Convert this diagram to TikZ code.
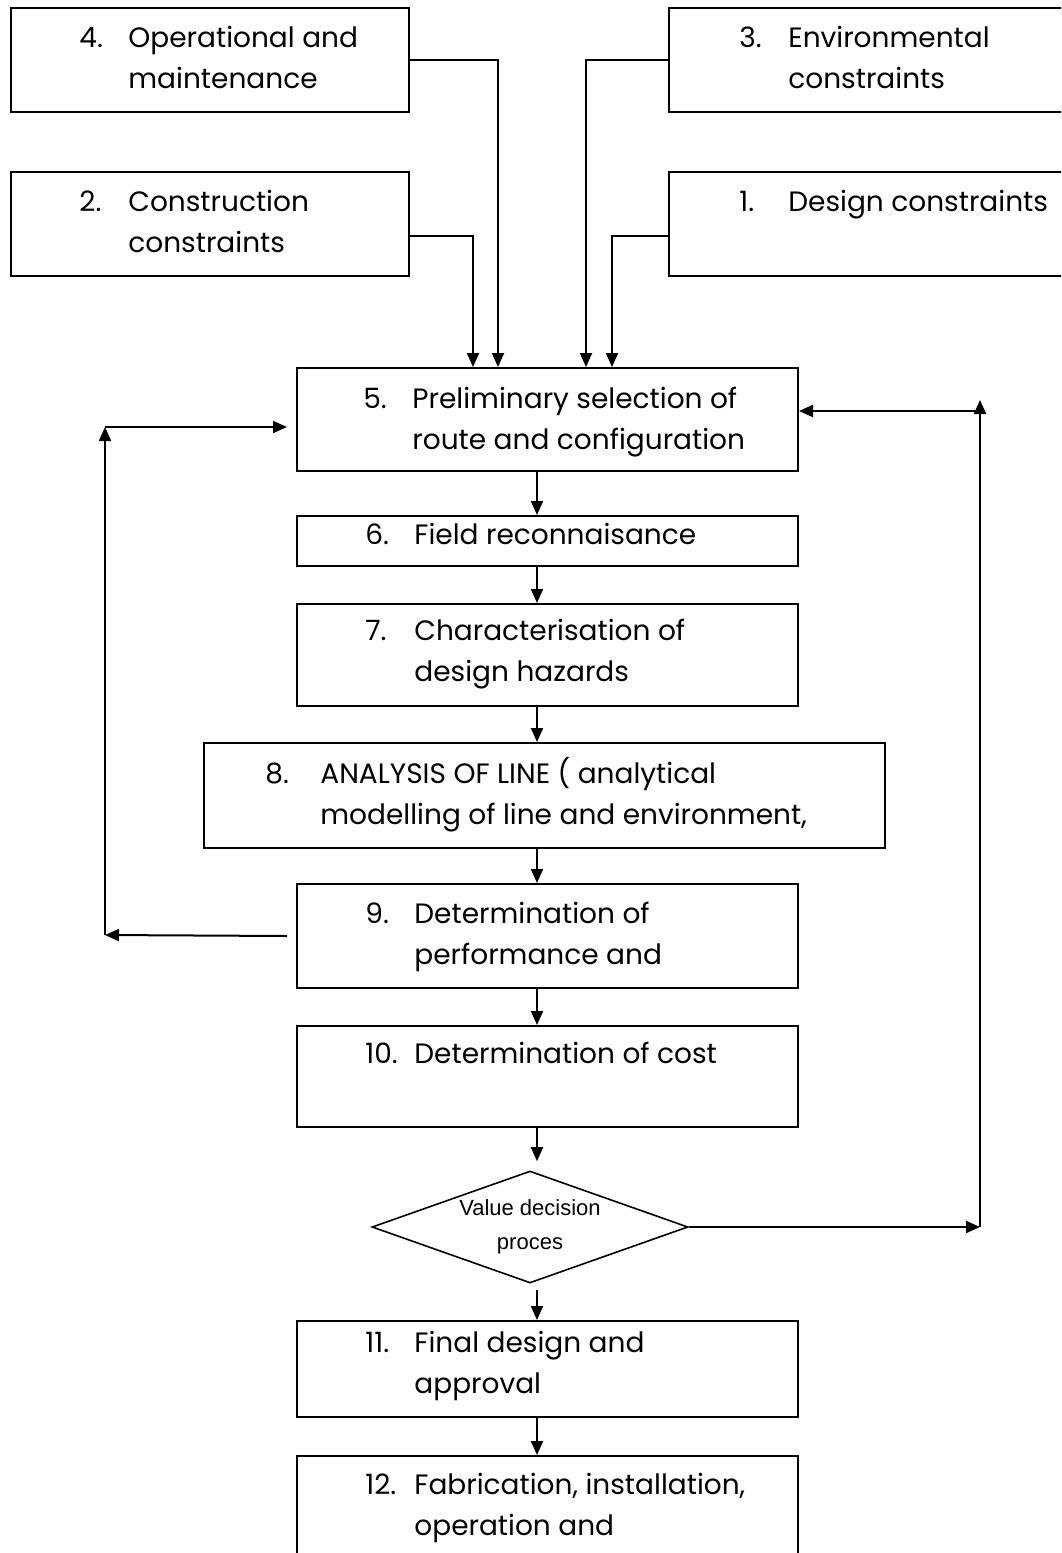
\documentclass[tikz,border=0pt]{standalone}
\usepackage{fontspec}
\setmainfont{Poppins}
\newfontfamily\arialfont{Liberation Sans}
\usetikzlibrary{arrows.meta,shapes.geometric}
\newcommand{\numtext}[3][24.5pt]{\begin{tabular}[t]{@{}p{#1}@{}l@{}}#2 & #3\end{tabular}}
\begin{document}
\begin{tikzpicture}[x=0.5pt,y=-0.5pt,
  box/.style={draw,line width=1pt,rectangle,inner sep=0,anchor=north west},
  lbl/.style={anchor=base west,inner sep=0,font=\fontsize{14pt}{20.5pt}\selectfont},
  arr/.style={line width=1pt,-{Triangle[length=7pt,width=6pt]}},
  ln/.style={line width=1pt}]
\useasboundingbox (0,0) rectangle (1061,1553);
\clip (0,0) rectangle (1061,1553);
% boxes
\node[box,minimum width=199pt,minimum height=52pt] (b4) at (10,7) {};
\node[box,minimum width=199pt,minimum height=52pt] (b2) at (10,171) {};
\node[box,minimum width=210pt,minimum height=52pt] (b3) at (668,7) {};
\node[box,minimum width=210pt,minimum height=52pt] (b1) at (668,171) {};
\node[box,minimum width=250.5pt,minimum height=51.5pt] (b5) at (296,367) {};
\node[box,minimum width=250.5pt,minimum height=25pt] (b6) at (296,515) {};
\node[box,minimum width=250.5pt,minimum height=51pt] (b7) at (296,603) {};
\node[box,minimum width=340.5pt,minimum height=52.5pt] (b8) at (203,742) {};
\node[box,minimum width=250.5pt,minimum height=52pt] (b9) at (296,883) {};
\node[box,minimum width=250.5pt,minimum height=50.5pt] (b10) at (296,1025) {};
\node[box,minimum width=250.5pt,minimum height=48pt] (b11) at (296,1320) {};
\node[box,minimum width=250.5pt,minimum height=65pt] (b12) at (296,1455) {};
\node[draw,line width=0.8pt,diamond,aspect=2.82,inner sep=0,minimum width=158pt,minimum height=56pt,
  align=center,font=\arialfont\fontsize{11pt}{17pt}\selectfont] (dec) at (530,1227) {Value decision\\proces};
% labels
\node[lbl] (t4) at (79,47) {\numtext{4.}{Operational and\\ & maintenance}};
\node[lbl] (t2) at (79,211) {\numtext{2.}{Construction\\ & constraints}};
\node[lbl] (t3) at (739,47) {\numtext{3.}{Environmental\\ & constraints}};
\node[lbl] (t1) at (739,211) {\numtext{1.}{Design constraints}};
\node[lbl] (t5) at (363,408) {\numtext{5.}{Preliminary selection of\\ & route and configuration}};
\node[lbl] (t6) at (365,544) {\numtext{6.}{Field reconnaisance}};
\node[lbl] (t7) at (365,640) {\numtext{7.}{Characterisation of\\ & design hazards}};
\node[lbl] (t8) at (265,783) {\numtext[27.5pt]{8.}{ANALYSIS OF LINE ( analytical\\ & modelling of line and environment,}};
\node[lbl] (t9) at (365,923) {\numtext{9.}{Determination of\\ & performance and}};
\node[lbl] (t10) at (365,1063) {\numtext{10.}{Determination of cost}};
\node[lbl] (t11) at (365,1352) {\numtext{11.}{Final design and\\ & approval}};
\node[lbl] (t12) at (365,1494) {\numtext{12.}{Fabrication, installation,\\ & operation and}};
% coordinates
\coordinate (col) at (537,0);
\coordinate (r1) at (980,1227);
\coordinate (r2) at (980,411);
\coordinate (r2t) at (980,400);
\coordinate (l1) at (105,935);
\coordinate (l2) at (105,427);
% top inputs
\draw[arr] (b4.east) -| ([xshift=-24.75pt]b5.north);
\draw[arr] ([yshift=-6pt]b2.east) -| ([xshift=-37.25pt]b5.north);
\draw[arr] (b3.west) -| ([xshift=19.25pt]b5.north);
\draw[arr] ([yshift=-6pt]b1.west) -| ([xshift=32.25pt]b5.north);
% main column
\draw[arr] (b5.south -| col) -- (b6.north -| col);
\draw[arr] (b6.south -| col) -- (b7.north -| col);
\draw[arr] (b7.south -| col) -- (b8.north -| col);
\draw[arr] (b8.south -| col) -- (b9.north -| col);
\draw[arr] (b9.south -| col) -- (b10.north -| col);
\draw[arr,shorten >=4.5pt] (b10.south -| col) -- (dec.north -| col);
\draw[arr,shorten <=3pt] (dec.south -| col) -- (b11.north -| col);
\draw[arr] (b11.south -| col) -- (b12.north -| col);
% right loop
\draw[arr] (dec.east) -- (r1);
\draw[arr] (r1) -- (r2t);
\draw[arr] (r2) -- (b5.east |- r2);
% left loop
\draw[arr] ([xshift=-4.5pt]b9.west) -- (l1);
\draw[arr] (l1) -- (l2);
\draw[arr] (l2) -- ([xshift=-4.5pt]b5.west |- l2);
\end{tikzpicture}
\end{document}
